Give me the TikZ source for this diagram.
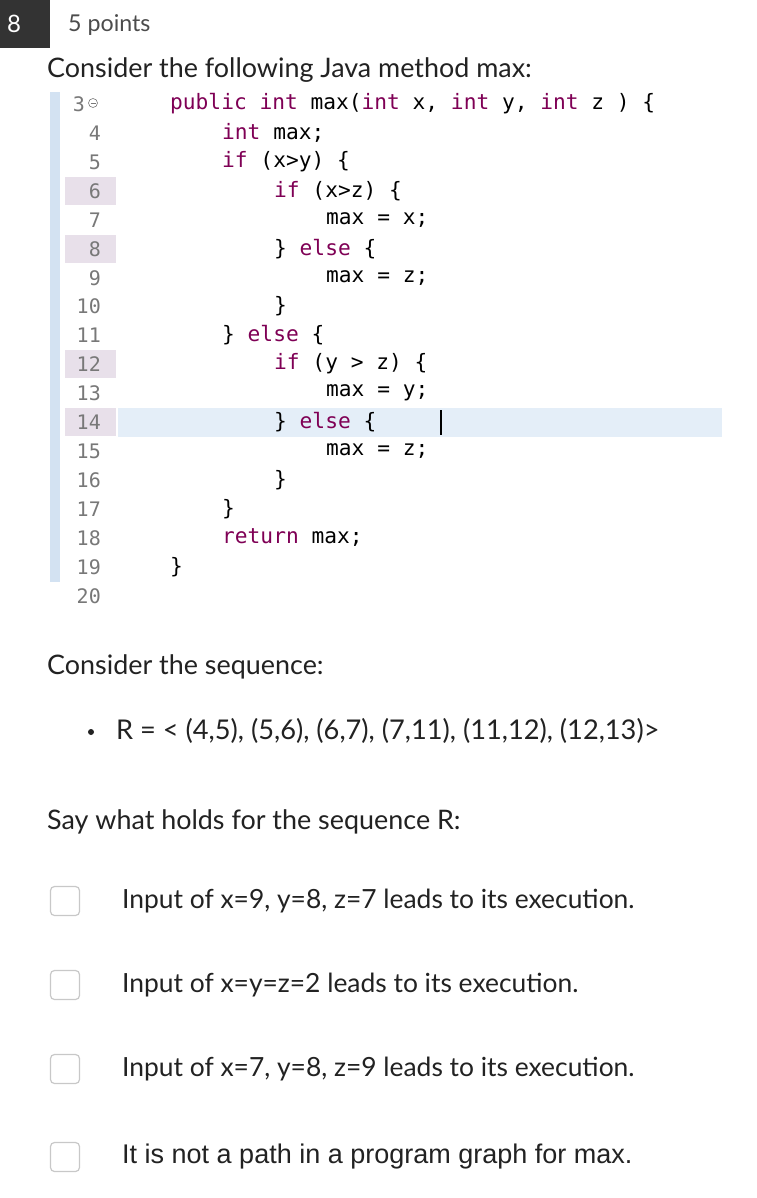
\documentclass[tikz,border=0pt]{standalone}
\usepackage{fontspec}
\setmainfont{Lato}
\newfontfamily\codefont{DejaVu Sans Mono}
\newfontfamily\arialf{Liberation Sans}
\definecolor{kw}{HTML}{7F0055}
\definecolor{lnum}{HTML}{787878}
\definecolor{bar}{HTML}{D3E2F2}
\definecolor{hl}{HTML}{E8E0EA}
\definecolor{rowhl}{HTML}{E4EEF8}
\definecolor{txt}{HTML}{222222}
\definecolor{boxgray}{HTML}{C8C8C8}
\tikzset{
  lbl/.style={anchor=west,inner sep=0pt,font=\fontsize{26.9}{30}\selectfont,text=txt},
  opt/.style={anchor=west,inner sep=0pt,font=\fontsize{26.4}{30}\selectfont,text=txt},
  code/.style={anchor=west,inner sep=0pt,font=\codefont\fontsize{21.2}{24}\selectfont,text=black},
  num/.style={anchor=east,inner sep=0pt,font=\codefont\fontsize{20}{22}\selectfont,text=lnum},
  chk/.style={draw=boxgray,line width=1.2pt,rounded corners=4pt,minimum width=29pt,minimum height=29pt,inner sep=0pt}
}
\newcommand{\kw}[1]{\textcolor{kw}{#1}}
\begin{document}
\begin{tikzpicture}[x=1pt,y=-1pt]
\useasboundingbox (0,0) rectangle (756,1198);
\fill[white] (0,0) rectangle (756,1198);
% header
\fill[black!80] (0,0) rectangle (50,48);
\node[anchor=center,text=white,font=\fontsize{24}{28}\selectfont] (qn) at (14,24) {8};
\node[anchor=west,inner sep=0pt,text=black!70,font=\fontsize{23.2}{26}\selectfont] (pts) at (68,25) {5 points};
\node[lbl] (t1) at (47,70) {Consider the following Java method max:};
% code area
\fill[bar] (50,92) rectangle (60,582);
\foreach \y in {191,249,364,422}{\fill[hl] (65,\y-14) rectangle (116,\y+14);}
\fill[rowhl] (118,408) rectangle (722,437);
\foreach \n/\y in {4/133,5/162,6/191,7/220,8/249,9/278,10/306,11/335,12/364,13/393,14/422,15/451,16/480,17/509,18/538,19/567,20/596}{
  \node[num] (n\n) at (101,\y) {\n};}
\node[num] (n3) at (85,104) {3};
\draw[lnum,line width=0.6pt] (93,103) circle (4.5pt);
\draw[lnum,line width=0.8pt] (90.5,103) -- (95.5,103);
\node[code] (c3) at (170,104) {\kw{public} \kw{int} max(\kw{int} x, \kw{int} y, \kw{int} z ) \{};
\node[code] (c4) at (222,133) {\kw{int} max;};
\node[code] (c5) at (222,162) {\kw{if} (x>y) \{};
\node[code] (c6) at (274,191) {\kw{if} (x>z) \{};
\node[code] (c7) at (326,220) {max = x;};
\node[code] (c8) at (274,249) {\} \kw{else} \{};
\node[code] (c9) at (326,278) {max = z;};
\node[code] (c10) at (274,306) {\}};
\node[code] (c11) at (222,335) {\} \kw{else} \{};
\node[code] (c12) at (274,364) {\kw{if} (y > z) \{};
\node[code] (c13) at (326,393) {max = y;};
\node[code] (c14) at (274,422) {\} \kw{else} \{};
\draw[line width=1.2pt] (441,410) -- (441,435);
\node[code] (c15) at (326,451) {max = z;};
\node[code] (c16) at (274,480) {\}};
\node[code] (c17) at (222,509) {\}};
\node[code] (c18) at (222,538) {\kw{return} max;};
\node[code] (c19) at (170,567) {\}};
% sequence
\node[lbl] (t2) at (47,667) {Consider the sequence:};
\fill[txt] (91,732) circle (3pt);
\node[lbl,font=\fontsize{27.2}{30}\selectfont] (seq) at (116,731) {R = < (4,5), (5,6), (6,7), (7,11), (11,12), (12,13)>};
\node[lbl] (t3) at (47,822) {Say what holds for the sequence R:};
% options
\node[chk] (b1) at (65,901) {};
\node[chk] (b2) at (65,985) {};
\node[chk] (b3) at (65,1069) {};
\node[chk] (b4) at (65,1157) {};
\node[opt] (o1) at (122,901) {Input of x=9, y=8, z=7 leads to its execution.};
\node[opt] (o2) at (122,985) {Input of x=y=z=2 leads to its execution.};
\node[opt] (o3) at (122,1069) {Input of x=7, y=8, z=9 leads to its execution.};
\node[opt,font=\arialf\fontsize{27}{30}\selectfont] (o4) at (122,1157) {It is not a path in a program graph for max.};
\end{tikzpicture}
\end{document}
